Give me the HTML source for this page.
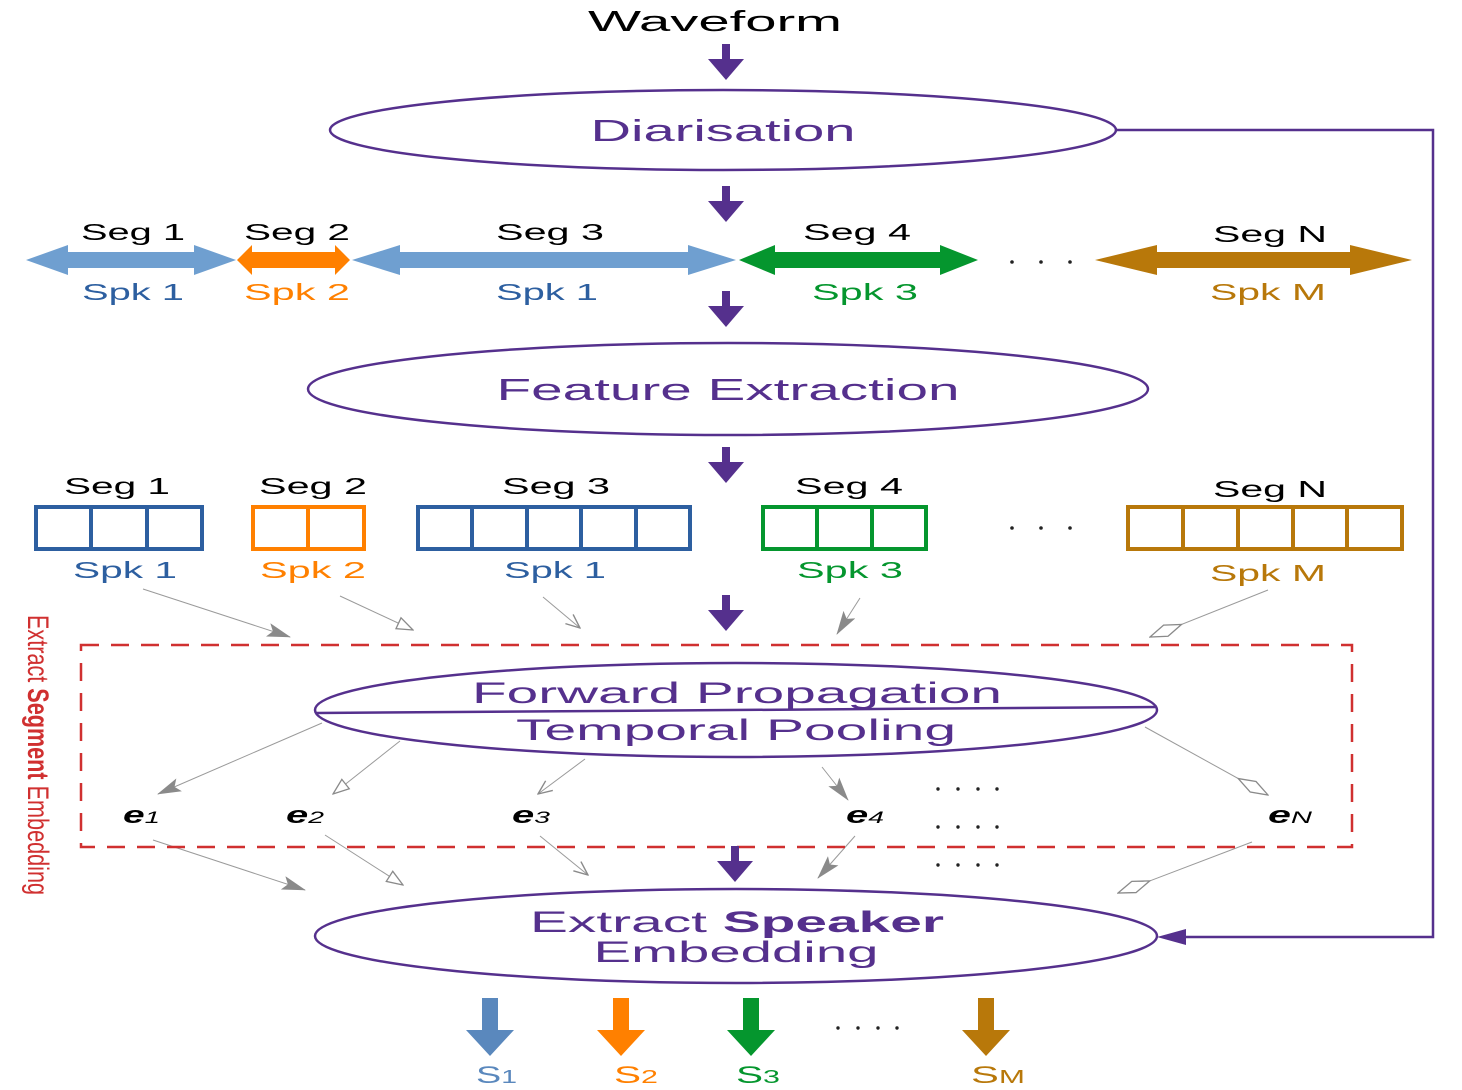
<!DOCTYPE html>
<html><head><meta charset="utf-8"><style>html,body{margin:0;padding:0;background:#fff}svg{display:block}text{font-family:"Liberation Sans",sans-serif}</style></head><body>
<svg width="1462" height="1090" viewBox="0 0 1462 1090" xmlns="http://www.w3.org/2000/svg">
<defs>
<marker id="fill" markerWidth="24" markerHeight="14" refX="23" refY="7" orient="auto" markerUnits="userSpaceOnUse" viewBox="0 0 24 14"><path d="M0,0 L24,7 L0,14 L5,7 Z" fill="#8a8a8a"/></marker>
<marker id="tri" markerWidth="18" markerHeight="14" refX="17" refY="7" orient="auto" markerUnits="userSpaceOnUse" viewBox="0 0 18 14"><path d="M1,1 L17,7 L1,13 Z" fill="#fff" stroke="#8a8a8a" stroke-width="1.3"/></marker>
<marker id="vee" markerWidth="16" markerHeight="14" refX="15" refY="7" orient="auto" markerUnits="userSpaceOnUse" viewBox="0 0 16 14"><path d="M1,1 L15,7 L1,13" fill="none" stroke="#8a8a8a" stroke-width="1.4"/></marker>
<marker id="dia" markerWidth="36" markerHeight="14" refX="35" refY="7" orient="auto" markerUnits="userSpaceOnUse" viewBox="0 0 36 14"><path d="M1,7 L18,1 L35,7 L18,13 Z" fill="#fff" stroke="#8a8a8a" stroke-width="1.3"/></marker>
<g id="pd"><rect x="-4" y="0" width="8" height="17" fill="#55308d"/><path d="M-18,15 L18,15 L0,36 Z" fill="#55308d"/></g>
</defs>

<text x="715" y="31" font-size="29" textLength="254" lengthAdjust="spacingAndGlyphs" text-anchor="middle">Waveform</text>
<use href="#pd" x="726" y="44"/>
<ellipse cx="723" cy="130" rx="393" ry="40" fill="none" stroke="#55308d" stroke-width="2.5"/>
<text x="723" y="141" font-size="31" fill="#55308d" textLength="265" lengthAdjust="spacingAndGlyphs" text-anchor="middle">Diarisation</text>
<path d="M1117,130 H1433 V937 H1170" fill="none" stroke="#55308d" stroke-width="2.5"/>
<path d="M1157,937 L1186,929 L1186,945 Z" fill="#55308d"/>
<use href="#pd" x="726" y="186"/>

<g>
<path d="M26,260 L68,245 L68,252 L194,252 L194,245 L236,260 L194,275 L194,268 L68,268 L68,275 Z" fill="#6f9fd0"/>
<path d="M237,260 L252,245 L252,252 L335,252 L335,245 L350,260 L335,275 L335,268 L252,268 L252,275 Z" fill="#ff8000"/>
<path d="M352,260 L400,245 L400,252 L688,252 L688,245 L736,260 L688,275 L688,268 L400,268 L400,275 Z" fill="#6f9fd0"/>
<path d="M739,260 L775,245 L775,252 L940,252 L940,245 L978,260 L940,275 L940,268 L775,268 L775,275 Z" fill="#05962e"/>
<path d="M1095,260 L1157,245 L1157,252 L1350,252 L1350,245 L1412,260 L1350,275 L1350,268 L1157,268 L1157,275 Z" fill="#b8780a"/>
</g>
<g font-size="23" text-anchor="middle">
<text x="133" y="240" textLength="104" lengthAdjust="spacingAndGlyphs">Seg 1</text>
<text x="297" y="240" textLength="106" lengthAdjust="spacingAndGlyphs">Seg 2</text>
<text x="550" y="240" textLength="108" lengthAdjust="spacingAndGlyphs">Seg 3</text>
<text x="857" y="240" textLength="108" lengthAdjust="spacingAndGlyphs">Seg 4</text>
<text x="1270" y="242" textLength="114" lengthAdjust="spacingAndGlyphs">Seg N</text>
<text x="133" y="300" fill="#2d5fa0" textLength="102" lengthAdjust="spacingAndGlyphs">Spk 1</text>
<text x="297" y="300" fill="#ff8000" textLength="106" lengthAdjust="spacingAndGlyphs">Spk 2</text>
<text x="547" y="300" fill="#2d5fa0" textLength="102" lengthAdjust="spacingAndGlyphs">Spk 1</text>
<text x="865" y="300" fill="#05962e" textLength="106" lengthAdjust="spacingAndGlyphs">Spk 3</text>
<text x="1268" y="300" fill="#b8780a" textLength="116" lengthAdjust="spacingAndGlyphs">Spk M</text>
</g>
<g fill="#222"><circle cx="1012" cy="262" r="1.8"/><circle cx="1041" cy="262" r="1.8"/><circle cx="1070" cy="262" r="1.8"/>
<circle cx="1012" cy="528" r="1.8"/><circle cx="1041" cy="528" r="1.8"/><circle cx="1070" cy="528" r="1.8"/></g>
<use href="#pd" x="726" y="291"/>

<ellipse cx="728" cy="389" rx="420" ry="46" fill="none" stroke="#55308d" stroke-width="2.5"/>
<text x="728" y="400" font-size="31" fill="#55308d" textLength="463" lengthAdjust="spacingAndGlyphs" text-anchor="middle">Feature Extraction</text>
<use href="#pd" x="726" y="447"/>

<g fill="none" stroke-width="4">
<g stroke="#2d5fa0"><rect x="36" y="507" width="166" height="42"/><path d="M91,507V549M147,507V549"/></g>
<g stroke="#ff8000"><rect x="253" y="507" width="111" height="42"/><path d="M308,507V549"/></g>
<g stroke="#2d5fa0"><rect x="418" y="507" width="272" height="42"/><path d="M472,507V549M527,507V549M581,507V549M636,507V549"/></g>
<g stroke="#05962e"><rect x="763" y="507" width="163" height="42"/><path d="M817,507V549M872,507V549"/></g>
<g stroke="#b8780a"><rect x="1128" y="507" width="274" height="42"/><path d="M1183,507V549M1238,507V549M1293,507V549M1347,507V549"/></g>
</g>
<g font-size="23" text-anchor="middle">
<text x="117" y="494" textLength="106" lengthAdjust="spacingAndGlyphs">Seg 1</text>
<text x="313" y="494" textLength="108" lengthAdjust="spacingAndGlyphs">Seg 2</text>
<text x="556" y="494" textLength="108" lengthAdjust="spacingAndGlyphs">Seg 3</text>
<text x="849" y="494" textLength="108" lengthAdjust="spacingAndGlyphs">Seg 4</text>
<text x="1270" y="497" textLength="114" lengthAdjust="spacingAndGlyphs">Seg N</text>
<text x="125" y="578" fill="#2d5fa0" textLength="104" lengthAdjust="spacingAndGlyphs">Spk 1</text>
<text x="313" y="578" fill="#ff8000" textLength="106" lengthAdjust="spacingAndGlyphs">Spk 2</text>
<text x="555" y="578" fill="#2d5fa0" textLength="102" lengthAdjust="spacingAndGlyphs">Spk 1</text>
<text x="850" y="578" fill="#05962e" textLength="106" lengthAdjust="spacingAndGlyphs">Spk 3</text>
<text x="1268" y="581" fill="#b8780a" textLength="116" lengthAdjust="spacingAndGlyphs">Spk M</text>
</g>

<g stroke="#9a9a9a" stroke-width="1" fill="none">
<line x1="143" y1="589" x2="290" y2="637" marker-end="url(#fill)"/>
<line x1="340" y1="596" x2="413" y2="630" marker-end="url(#tri)"/>
<line x1="543" y1="597" x2="580" y2="628" marker-end="url(#vee)"/>
<line x1="860" y1="598" x2="837" y2="634" marker-end="url(#fill)"/>
<line x1="1268" y1="590" x2="1150" y2="637" marker-end="url(#dia)"/>
<line x1="322" y1="723" x2="158" y2="794" marker-end="url(#fill)"/>
<line x1="400" y1="741" x2="333" y2="794" marker-end="url(#tri)"/>
<line x1="585" y1="759" x2="538" y2="794" marker-end="url(#vee)"/>
<line x1="822" y1="767" x2="848" y2="800" marker-end="url(#fill)"/>
<line x1="1145" y1="727" x2="1268" y2="795" marker-end="url(#dia)"/>
<line x1="153" y1="840" x2="305" y2="890" marker-end="url(#fill)"/>
<line x1="325" y1="835" x2="403" y2="885" marker-end="url(#tri)"/>
<line x1="540" y1="836" x2="588" y2="875" marker-end="url(#vee)"/>
<line x1="855" y1="836" x2="818" y2="878" marker-end="url(#fill)"/>
<line x1="1252" y1="842" x2="1118" y2="893" marker-end="url(#dia)"/>
</g>
<use href="#pd" x="726" y="595"/>

<rect x="81" y="645" width="1271" height="202" fill="none" stroke="#d03030" stroke-width="2.5" stroke-dasharray="18 12"/>
<text transform="translate(28,615) rotate(90)" font-size="30" fill="#d03030" textLength="280" lengthAdjust="spacingAndGlyphs">Extract <tspan font-weight="bold">Segment</tspan> Embedding</text>

<ellipse cx="736" cy="710" rx="421" ry="47" fill="none" stroke="#55308d" stroke-width="2.5"/>
<line x1="316" y1="713" x2="1157" y2="707" stroke="#55308d" stroke-width="2.5"/>
<text x="737" y="703" font-size="30" fill="#55308d" textLength="530" lengthAdjust="spacingAndGlyphs" text-anchor="middle">Forward Propagation</text>
<text x="736" y="740" font-size="30" fill="#55308d" textLength="440" lengthAdjust="spacingAndGlyphs" text-anchor="middle">Temporal Pooling</text>

<g font-size="24" font-weight="bold" font-style="italic">
<text x="123" y="823" textLength="37" lengthAdjust="spacingAndGlyphs">e<tspan font-size="17" font-weight="normal">1</tspan></text>
<text x="286" y="823" textLength="38" lengthAdjust="spacingAndGlyphs">e<tspan font-size="17" font-weight="normal">2</tspan></text>
<text x="512" y="823" textLength="38" lengthAdjust="spacingAndGlyphs">e<tspan font-size="17" font-weight="normal">3</tspan></text>
<text x="846" y="823" textLength="38" lengthAdjust="spacingAndGlyphs">e<tspan font-size="17" font-weight="normal">4</tspan></text>
<text x="1268" y="823" textLength="44" lengthAdjust="spacingAndGlyphs">e<tspan font-size="17" font-weight="normal">N</tspan></text>
</g>
<g fill="#222">
<circle cx="938" cy="789" r="1.7"/><circle cx="958" cy="789" r="1.7"/><circle cx="978" cy="789" r="1.7"/><circle cx="997" cy="789" r="1.7"/>
<circle cx="938" cy="827" r="1.7"/><circle cx="958" cy="827" r="1.7"/><circle cx="978" cy="827" r="1.7"/><circle cx="997" cy="827" r="1.7"/>
<circle cx="938" cy="865" r="1.7"/><circle cx="958" cy="865" r="1.7"/><circle cx="978" cy="865" r="1.7"/><circle cx="997" cy="865" r="1.7"/>
<circle cx="838" cy="1028" r="1.7"/><circle cx="858" cy="1028" r="1.7"/><circle cx="878" cy="1028" r="1.7"/><circle cx="897" cy="1028" r="1.7"/>
</g>
<use href="#pd" x="735" y="846"/>

<ellipse cx="736" cy="936" rx="421" ry="47" fill="none" stroke="#55308d" stroke-width="2.5"/>
<text x="737" y="932" font-size="30" fill="#55308d" textLength="414" lengthAdjust="spacingAndGlyphs" text-anchor="middle">Extract <tspan font-weight="bold">Speaker</tspan></text>
<text x="736" y="962" font-size="30" fill="#55308d" textLength="285" lengthAdjust="spacingAndGlyphs" text-anchor="middle">Embedding</text>

<g>
<path d="M482,998 H498 V1030 H514 L490,1056 L466,1030 H482 Z" fill="#5a88bd"/>
<path d="M613,998 H629 V1030 H645 L621,1056 L597,1030 H613 Z" fill="#ff8000"/>
<path d="M743,998 H759 V1030 H775 L751,1056 L727,1030 H743 Z" fill="#05962e"/>
<path d="M978,998 H994 V1030 H1010 L986,1056 L962,1030 H978 Z" fill="#b8780a"/>
</g>
<g font-size="24">
<text x="476" y="1083" fill="#5a88bd" textLength="41" lengthAdjust="spacingAndGlyphs">S<tspan font-size="18">1</tspan></text>
<text x="614" y="1083" fill="#ff8000" textLength="44" lengthAdjust="spacingAndGlyphs">S<tspan font-size="18">2</tspan></text>
<text x="736" y="1083" fill="#05962e" textLength="44" lengthAdjust="spacingAndGlyphs">S<tspan font-size="18">3</tspan></text>
<text x="971" y="1083" fill="#b8780a" textLength="54" lengthAdjust="spacingAndGlyphs">S<tspan font-size="18">M</tspan></text>
</g>
</svg>
</body></html>
